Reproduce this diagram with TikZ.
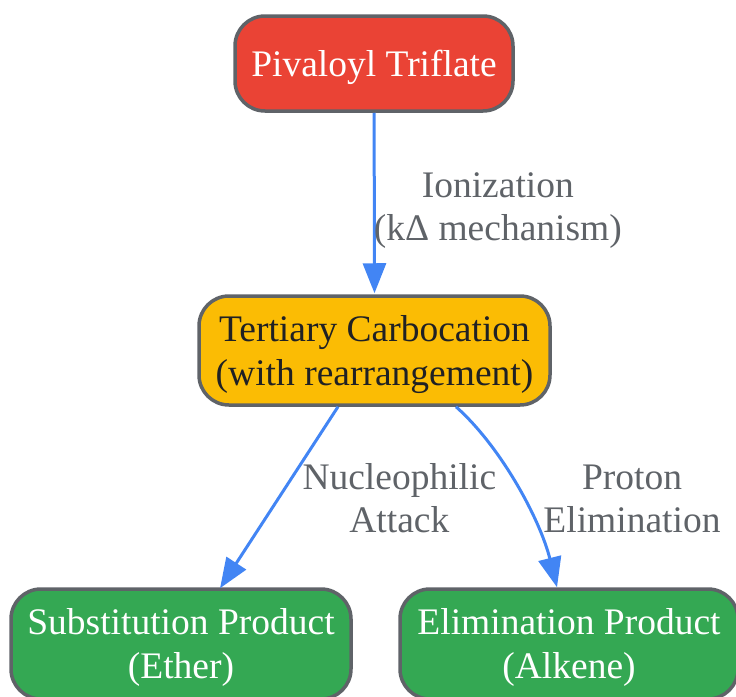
\documentclass[tikz,border=0pt]{standalone}
\usepackage{fontspec}
\setmainfont{Liberation Serif}
\usetikzlibrary{arrows.meta}
\definecolor{cred}{HTML}{EA4335}
\definecolor{cyellow}{HTML}{FBBC04}
\definecolor{cgreen}{HTML}{34A853}
\definecolor{cborder}{HTML}{5F6368}
\definecolor{cblue}{HTML}{4285F4}
\definecolor{cdark}{HTML}{202124}
\newcommand{\dn}[1]{\raisebox{-4pt}[\height][\depth]{\begin{tabular}{@{}c@{}}#1\end{tabular}}}
\tikzset{
  box/.style={draw=cborder, line width=3.5pt, rounded corners=30pt, align=center,
    font=\fontsize{37.5}{44}\selectfont, inner sep=0pt},
  edge/.style={draw=cblue, line width=3pt, -{Triangle[length=30pt,width=23pt]}},
  lbl/.style={text=cborder, align=center, font=\fontsize{37.5}{43}\selectfont, inner sep=0pt}
}
\begin{document}
\begin{tikzpicture}[x=1pt,y=-1pt]
\useasboundingbox (0,0) rectangle (736,696);
\node[box, fill=cred, text=white, minimum width=278pt, minimum height=95pt] (a) at (374,63.5) {\dn{Pivaloyl Triflate}};
\node[box, fill=cyellow, text=cdark, minimum width=351pt, minimum height=109pt] (b) at (374.5,350.5) {\dn{Tertiary Carbocation\\(with rearrangement)}};
\node[box, fill=cgreen, text=white, minimum width=340pt, minimum height=110pt] (c) at (181,644) {\dn{Substitution Product\\(Ether)}};
\node[box, fill=cgreen, text=white, minimum width=338pt, minimum height=110pt] (d) at (569,644) {\dn{Elimination Product\\(Alkene)}};
\draw[edge] (a) -- ([yshift=1pt]b.north) node[lbl, midway, anchor=west, xshift=-2pt, yshift=-3pt] (l1) {\dn{Ionization\\(kΔ mechanism)}};
\draw[edge] ([xshift=-36.5pt]b.south) -- ([xshift=39pt,yshift=-1pt]c.north) node[lbl, midway, anchor=west, xshift=22pt, yshift=-1pt] (l2) {\dn{Nucleophilic\\Attack}};
\draw[edge] ([xshift=81.5pt]b.south) .. controls +(45,40) and +(-17,-68) .. ([xshift=-12pt]d.north) node[lbl, pos=0.5, anchor=center, xshift=115pt, yshift=-12pt] (l3) {\dn{Proton\\Elimination}};
\end{tikzpicture}
\end{document}
